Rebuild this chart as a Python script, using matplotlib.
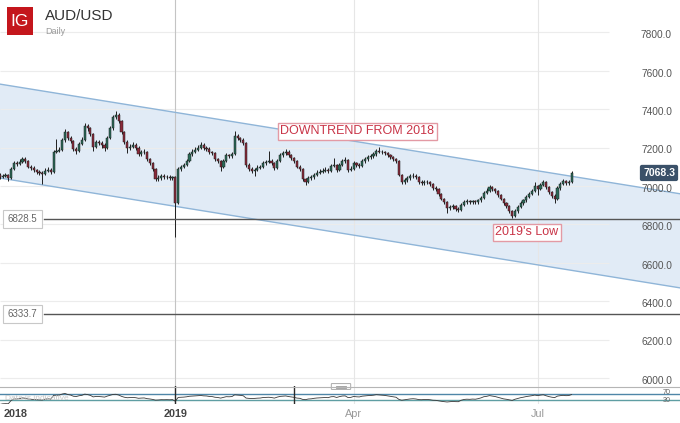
import numpy as np
import pandas as pd
import matplotlib
matplotlib.use("Agg")
import matplotlib.pyplot as plt
from matplotlib.patches import Rectangle, FancyBboxPatch
from matplotlib.lines import Line2D
from matplotlib.transforms import blended_transform_factory

plt.rcParams['font.family'] = ['Liberation Sans', 'DejaVu Sans']

# ---------------- data ----------------
start_date = "2018-10-03"
end_date = "2019-07-17"
holidays = ["2018-12-25", "2019-01-01"]
first_open = 7065

closes = [
    7060, 7047, 7055, 7057, 7042, 7090, 7120, 7115, 7125, 7140,
    7130, 7100, 7095, 7083, 7075, 7070, 7065, 7080, 7085, 7075,
    7180, 7185, 7190, 7240, 7280, 7250, 7235, 7195, 7185, 7220,
    7240, 7315, 7300, 7270, 7205, 7230, 7225, 7215, 7200, 7250,
    7300, 7360, 7370, 7340, 7280, 7230, 7200, 7205, 7215, 7200,
    7165, 7175, 7180, 7140, 7120, 7090, 7035, 7040, 7050, 7045,
    7048, 7040, 7045, 6910, 7090, 7100, 7110, 7130, 7165, 7180,
    7190, 7200, 7215, 7200, 7195, 7175, 7170, 7140, 7130, 7100,
    7130, 7160, 7155, 7165, 7260, 7250, 7240, 7225, 7110, 7090,
    7080, 7085, 7095, 7100, 7120, 7125, 7130, 7120, 7095, 7130,
    7160, 7170, 7180, 7160, 7145, 7130, 7100, 7090, 7035, 7020,
    7040, 7045, 7060, 7070, 7075, 7080, 7085, 7080, 7105, 7110,
    7085, 7110, 7130, 7135, 7085, 7090, 7120, 7110, 7105, 7130,
    7140, 7150, 7155, 7165, 7185, 7180, 7175, 7170, 7160, 7150,
    7140, 7130, 7060, 7020, 7030, 7040, 7050, 7055, 7045, 7020,
    7015, 7020, 7020, 7010, 6990, 6985, 6960, 6935, 6915, 6885,
    6890, 6895, 6880, 6875, 6900, 6915, 6920, 6915, 6920, 6915,
    6925, 6940, 6965, 6975, 6995, 6985, 6975, 6955, 6935, 6910,
    6895, 6870, 6845, 6870, 6890, 6910, 6925, 6945, 6960, 6975,
    7000, 6985, 7005, 7020, 6995, 6970, 6950, 6935, 6990, 7010,
    7025, 7015, 7020, 7068,
]
highs = [
    7075, 7068, 7065, 7070, 7062, 7098, 7130, 7132, 7140, 7152,
    7150, 7138, 7110, 7102, 7090, 7085, 7080, 7092, 7098, 7094,
    7190, 7245, 7205, 7252, 7295, 7288, 7260, 7242, 7205, 7230,
    7255, 7330, 7325, 7308, 7275, 7242, 7240, 7235, 7222, 7260,
    7312, 7372, 7390, 7378, 7345, 7288, 7238, 7218, 7228, 7222,
    7208, 7188, 7195, 7185, 7148, 7125, 7095, 7060, 7065, 7062,
    7060, 7058, 7055, 7050, 7098, 7112, 7122, 7142, 7175, 7192,
    7205, 7212, 7228, 7222, 7210, 7202, 7185, 7176, 7148, 7135,
    7140, 7170, 7168, 7178, 7285, 7272, 7258, 7248, 7230, 7118,
    7098, 7095, 7108, 7112, 7132, 7138, 7185, 7140, 7125, 7140,
    7172, 7182, 7192, 7186, 7168, 7152, 7136, 7108, 7095, 7042,
    7050, 7058, 7070, 7082, 7088, 7092, 7098, 7095, 7115, 7145,
    7116, 7120, 7140, 7150, 7140, 7102, 7130, 7128, 7118, 7140,
    7152, 7162, 7168, 7178, 7195, 7205, 7190, 7185, 7178, 7168,
    7158, 7148, 7135, 7065, 7042, 7052, 7062, 7068, 7062, 7050,
    7030, 7032, 7032, 7028, 7015, 6998, 6990, 6965, 6940, 6920,
    6902, 6908, 6900, 6890, 6910, 6925, 6932, 6928, 6930, 6928,
    6935, 6950, 6975, 6988, 7005, 7000, 6992, 6980, 6960, 6940,
    6915, 6900, 6875, 6880, 6900, 6920, 6935, 6955, 6970, 6985,
    7020, 7005, 7015, 7030, 7025, 7000, 6975, 6958, 6998, 7020,
    7035, 7030, 7032, 7080,
]
lows = [
    7045, 7035, 7040, 7045, 7025, 7038, 7085, 7105, 7108, 7118,
    7120, 7092, 7085, 7075, 7062, 7058, 7010, 7058, 7072, 7062,
    7070, 7170, 7175, 7185, 7232, 7240, 7222, 7185, 7165, 7178,
    7212, 7235, 7288, 7262, 7185, 7198, 7212, 7200, 7185, 7195,
    7245, 7292, 7350, 7330, 7270, 7220, 7170, 7190, 7198, 7188,
    7155, 7158, 7168, 7130, 7110, 7080, 7025, 7028, 7032, 7035,
    7036, 7030, 7032, 6734, 6905, 7080, 7092, 7102, 7125, 7158,
    7172, 7182, 7192, 7190, 7182, 7165, 7160, 7132, 7120, 7080,
    7095, 7125, 7145, 7148, 7160, 7240, 7228, 7215, 7100, 7078,
    7068, 7050, 7078, 7088, 7095, 7112, 7118, 7110, 7085, 7090,
    7125, 7152, 7162, 7150, 7135, 7120, 7092, 7080, 7025, 7005,
    7015, 7032, 7038, 7052, 7062, 7068, 7072, 7070, 7075, 7098,
    7075, 7080, 7102, 7122, 7075, 7078, 7085, 7100, 7095, 7100,
    7122, 7132, 7142, 7148, 7158, 7170, 7165, 7160, 7150, 7140,
    7130, 7120, 7050, 7010, 7012, 7022, 7032, 7042, 7035, 7010,
    7005, 7008, 7010, 7000, 6980, 6975, 6950, 6925, 6905, 6860,
    6875, 6882, 6870, 6865, 6870, 6895, 6908, 6905, 6908, 6905,
    6908, 6918, 6935, 6958, 6968, 6975, 6965, 6945, 6925, 6900,
    6885, 6860, 6832, 6840, 6862, 6885, 6902, 6918, 6938, 6952,
    6968, 6955, 6978, 6998, 6985, 6960, 6940, 6911, 6930, 6982,
    7005, 7005, 7008, 7015,
]

price_ticks = [6000, 6200, 6400, 6600, 6800, 7000, 7200, 7400, 7600, 7800]
level_values = [6828.5, 6333.7]
channel_upper = [7531, 6960]   # at left / right edge of the plot
channel_lower = [7042, 6470]
last_price = 7068.3
rsi_period = 14
rsi_levels = [70, 30]
x_tick_dates = ["2019-01-01", "2019-04-01", "2019-07-01"]
x_tick_labels = ["2019", "Apr", "Jul"]
marker_dates = ["2019-01-02", "2019-03-01"]

# ---------------- prep ----------------
dates = pd.bdate_range(start_date, end_date)
dates = dates[~dates.isin(pd.to_datetime(holidays))][:len(closes)]
n = len(closes)
x = np.arange(n)
c = np.array(closes, float)
o = np.array([first_open] + closes[:-1], float)
h = np.array(highs, float)
l = np.array(lows, float)

W, H = 680, 423
def fy(px):
    return 1 - px / H

X0, X1 = 1.06, 241.3
Y0, Y1 = 5959, 7969

fig = plt.figure(figsize=(W / 100, H / 100), dpi=100)
fig.patch.set_facecolor("white")
ax = fig.add_axes([0, fy(386), 1, 386 / H])
rax = fig.add_axes([0, fy(404), 1, 18 / H], sharex=ax)
for a in (ax, rax):
    a.set_axis_off()
ax.set_xlim(X0, X1)
ax.set_ylim(Y0, Y1)
rax.set_ylim(3.3, 123.3)

# grid
ax.hlines(price_ticks, X0, X0 + (X1 - X0) * 0.895, color="#ececec", lw=0.8, zorder=0.5)
tick_idx = [int(np.searchsorted(dates, pd.Timestamp(d))) for d in x_tick_dates]
for k, ti in enumerate(tick_idx):
    col = "#c4c4c4" if k == 0 else "#e6e6e6"
    ax.axvline(ti, color=col, lw=0.8, zorder=0.6)
    rax.axvline(ti, color=col, lw=0.8, zorder=0.6)

# channel
cx = np.array([X0, X1])
ax.fill_between(cx, channel_lower, channel_upper, color="#e1ebf6", zorder=0.3, lw=0)
ax.plot(cx, channel_upper, color="#8fb5d8", lw=1.0, zorder=1)
ax.plot(cx, channel_lower, color="#8fb5d8", lw=1.0, zorder=1)

# candles
up = c >= o
body_col = np.where(up, "#2b6b58", "#8a2a3a")
ax.vlines(x, l, h, color="#1e1e1e", lw=0.7, zorder=2)
ax.bar(x, np.maximum(np.abs(c - o), 3), bottom=np.minimum(o, c), width=0.75,
       color=body_col, edgecolor="#1c1c1c", linewidth=0.35, zorder=3)

# horizontal levels
trans = blended_transform_factory(ax.transAxes, ax.transData)
for v in level_values:
    ax.axhline(v, xmin=44 / W, xmax=1, color="#555555", lw=1.0, zorder=4)
    ax.text(22.5 / W, v, f"{v:.1f}", transform=trans, ha="center", va="center",
            fontsize=7, color="#666666", zorder=5,
            bbox=dict(boxstyle="square,pad=0.45", fc="white", ec="#c8c8c8", lw=0.8))

# right price labels
for t in price_ticks:
    ax.annotate(f"{t:.1f}", xy=(672 / W, t), xycoords=trans, xytext=(0, -2),
                textcoords="offset points", ha="right", va="center",
                fontsize=7.3, color="#555555", zorder=5)
ax.annotate(f"{last_price:.1f}", xy=(675 / W, last_price), xycoords=trans,
            xytext=(0, 0), textcoords="offset points", ha="right", va="center",
            fontsize=7.5, fontweight="bold", color="white", zorder=6,
            bbox=dict(boxstyle="round,pad=0.3,rounding_size=0.2", fc="#3b5169", ec="none"))

# annotations
ax.text(357.5 / W, 1 - 131.5 / 386, "DOWNTREND FROM 2018", transform=ax.transAxes,
        ha="center", va="center", fontsize=9, color="#c93447", zorder=6,
        bbox=dict(boxstyle="square,pad=0.2", fc="white", ec="#e39aa4", lw=1))
ax.text(527 / W, 1 - 232 / 386, "2019's Low", transform=ax.transAxes,
        ha="center", va="center", fontsize=9, color="#c93447", zorder=6,
        bbox=dict(boxstyle="square,pad=0.2", fc="white", ec="#e39aa4", lw=1))

# RSI panel
s = pd.Series(c)
d = s.diff()
gain = d.clip(lower=0).ewm(alpha=1 / rsi_period, adjust=False).mean()
loss = (-d.clip(upper=0)).ewm(alpha=1 / rsi_period, adjust=False).mean()
rsi = (100 - 100 / (1 + gain / loss.replace(0, np.nan))).fillna(50)
rax.axhline(rsi_levels[0], color="#4f86a8", lw=1.0, zorder=1)
rax.axhline(rsi_levels[1], color="#5f9ea3", lw=1.0, zorder=1)
rax.plot(x, rsi, color="#3a3a3a", lw=0.6, zorder=2)
for md in marker_dates:
    mi = int(np.searchsorted(dates, pd.Timestamp(md)))
    rax.axvline(mi, color="#2a2a2a", lw=1.0, zorder=3)
# 70 / 30 labels, nudged apart so they stay readable
fig.text(667 / W, fy(392.2), str(rsi_levels[0]), ha="center", va="center",
         fontsize=5.2, color="#666666")
fig.text(667 / W, fy(400.2), str(rsi_levels[1]), ha="center", va="center",
         fontsize=5.2, color="#666666")
fig.text(5 / W, fy(398), "Data is indicative", fontsize=6, color="#c8c8c8", va="center")
fig.add_artist(Line2D([0, 1], [fy(386.5)] * 2, color="#b5b5b5", lw=0.8))
fig.add_artist(FancyBboxPatch((332 / W, fy(389)), 18 / W, 5 / H,
                              boxstyle="round,pad=0.001", transform=fig.transFigure,
                              fc="white", ec="#aaaaaa", lw=0.7))
fig.add_artist(Line2D([336 / W, 346 / W], [fy(386)] * 2, color="#999999", lw=0.6))
fig.add_artist(Line2D([336 / W, 346 / W], [fy(387.6)] * 2, color="#999999", lw=0.6))

# x labels
xt = blended_transform_factory(ax.transData, fig.transFigure)
fig.text(16 / W, fy(414), "2018", fontsize=7.8, fontweight="bold", color="#444444",
         ha="center", va="center")
for k, (ti, lab) in enumerate(zip(tick_idx, x_tick_labels)):
    bold = lab.isdigit()
    ax.text(ti, fy(414), lab, transform=xt, ha="center", va="center", fontsize=7.8,
            fontweight="bold" if bold else "normal",
            color="#444444" if bold else "#999999", clip_on=False)

# header
fig.add_artist(Rectangle((7 / W, fy(35)), 26 / W, 28 / H, transform=fig.transFigure,
                         fc="#c4161c", ec="none"))
fig.text(20 / W, fy(21.5), "IG", color="white", fontsize=12.5, ha="center", va="center")
fig.text(45 / W, fy(15.5), "AUD/USD", fontsize=11, color="#333333", va="center")
fig.text(45 / W, fy(31), "Daily", fontsize=6.5, color="#999999", va="center")

fig.savefig("out.png", dpi=100, facecolor="white")
